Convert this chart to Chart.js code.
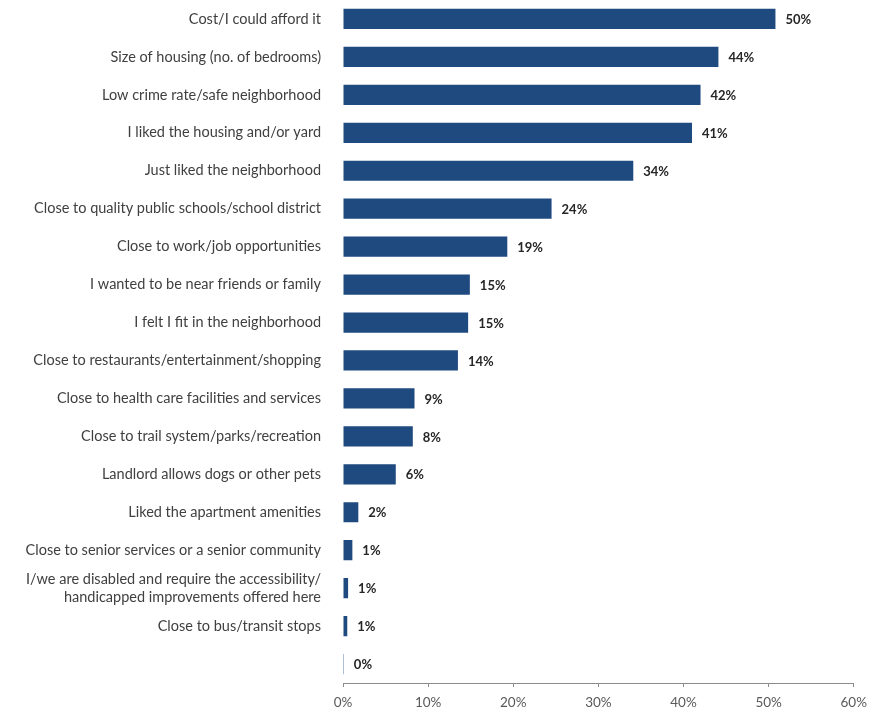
<!DOCTYPE html>
<html>
<head>
<meta charset="utf-8">
<script src="https://cdn.jsdelivr.net/npm/chart.js@4/dist/chart.umd.min.js"></script>
<style>
  body { margin: 0; background: #fff; }
  #wrap { width: 875px; height: 713px; }
</style>
</head>
<body>
<div id="wrap"><canvas id="reasons-chart"></canvas></div>
<script>
const categories = [
    'Cost/I could afford it',
    'Size of housing (no. of bedrooms)',
    'Low crime rate/safe neighborhood',
    'I liked the housing and/or yard',
    'Just liked the neighborhood',
    'Close to quality public schools/school district',
    'Close to work/job opportunities',
    'I wanted to be near friends or family',
    'I felt I fit in the neighborhood',
    'Close to restaurants/entertainment/shopping',
    'Close to health care facilities and services',
    'Close to trail system/parks/recreation',
    'Landlord allows dogs or other pets',
    'Liked the apartment amenities',
    'Close to senior services or a senior community',
    ['I/we are disabled and require the accessibility/', 'handicapped improvements offered here'],
    'Close to bus/transit stops',
    ''
];
const shares = [50.8, 44.1, 42.0, 41.0, 34.1, 24.5, 19.3, 14.9, 14.7, 13.5, 8.4, 8.2, 6.2, 1.8, 1.1, 0.6, 0.5, 0.1];
const shareLabels = ['50%', '44%', '42%', '41%', '34%', '24%', '19%', '15%', '15%', '14%', '9%', '8%', '6%', '2%', '1%', '1%', '1%', '0%'];
const xTicks = [0, 10, 20, 30, 40, 50, 60];

const barValueLabels = {
    id: 'barValueLabels',
    afterDatasetsDraw(chart) {
        const { ctx } = chart;
        const meta = chart.getDatasetMeta(0);
        ctx.save();
        ctx.font = 'bold 13px Lato, "Open Sans", sans-serif';
        ctx.fillStyle = '#262626';
        ctx.textBaseline = 'middle';
        meta.data.forEach((bar, i) => {
            ctx.fillText(shareLabels[i], bar.x + 10, bar.y + 1);
        });
        ctx.restore();
    }
};

document.addEventListener('DOMContentLoaded', () => {
    const ctx = 'reasons-chart';
    new Chart(ctx, {
        type: 'bar',
        data: {
            labels: categories,
            datasets: [{
                data: shares,
                backgroundColor: '#1F4A7F',
                borderWidth: 0,
                barPercentage: 0.82,
                categoryPercentage: 0.65
            }]
        },
        options: {
            indexAxis: 'y',
            responsive: true,
            maintainAspectRatio: false,
            animation: false,
            layout: { padding: { top: 0, right: 18, bottom: 0, left: 0 } },
            plugins: {
                legend: { display: false },
                tooltip: { enabled: false }
            },
            scales: {
                x: {
                    min: 0,
                    max: 60,
                    afterBuildTicks: (axis) => { axis.ticks = xTicks.map(v => ({ value: v })); },
                    afterFit: (axis) => { axis.height = 30; },
                    grid: {
                        drawOnChartArea: false,
                        drawTicks: true,
                        tickLength: 4,
                        color: '#8c8c8c'
                    },
                    border: { display: true, color: '#8c8c8c' },
                    ticks: {
                        callback: (v) => v + '%',
                        font: { family: 'Lato, "Open Sans", sans-serif', size: 13.5 },
                        color: '#595959',
                        padding: 8,
                        maxRotation: 0
                    }
                },
                y: {
                    afterFit: (axis) => {
                        axis.width = 343;
                        axis.paddingTop = 0;
                        axis.paddingBottom = 0;
                    },
                    grid: { display: false },
                    border: { display: false },
                    ticks: {
                        font: { family: 'Lato, "Open Sans", sans-serif', size: 14.5 },
                        color: '#404040',
                        padding: 14
                    }
                }
            }
        },
        plugins: [barValueLabels]
    });
});
</script>
</body>
</html>
